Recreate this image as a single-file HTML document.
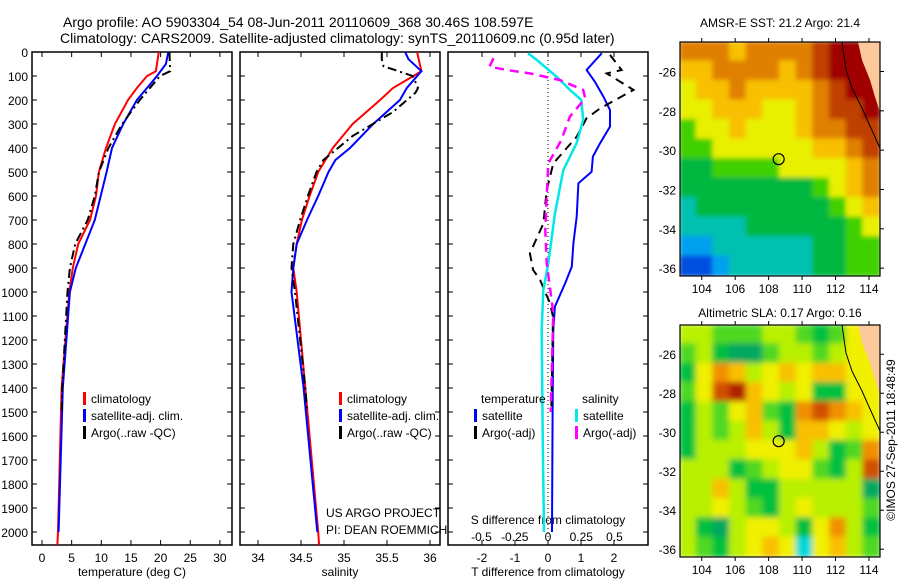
<!DOCTYPE html>
<html><head><meta charset="utf-8"><style>
body{margin:0;background:#fff}
svg{display:block;font-family:"Liberation Sans",sans-serif}
text{font-size:12px;fill:#000}
</style></head><body>
<svg id="fig" width="900" height="580" viewBox="0 0 900 580">
<defs>
<clipPath id="c1"><rect x="680" y="42" width="200" height="234"/></clipPath>
<clipPath id="c2"><rect x="680" y="325" width="200" height="232"/></clipPath>
<clipPath id="cp1"><rect x="32" y="52" width="200" height="493"/></clipPath>
<clipPath id="cp2"><rect x="240" y="52" width="200" height="493"/></clipPath>
<clipPath id="cp3"><rect x="448" y="52" width="200" height="493"/></clipPath>
<filter id="bl" x="-5%" y="-5%" width="110%" height="110%"><feGaussianBlur stdDeviation="2.5"/></filter>
<filter id="bl2" x="-5%" y="-5%" width="110%" height="110%"><feGaussianBlur stdDeviation="3"/></filter>
</defs>
<text x="63" y="27" style="font-size:14px">Argo profile: AO 5903304_54 08-Jun-2011 20110609_368 30.46S 108.597E</text>
<text x="60" y="43" style="font-size:14px">Climatology: CARS2009. Satellite-adjusted climatology: synTS_20110609.nc (0.95d later)</text>
<g id="g"></g>
</svg>
<script>
// ---- profile data ----
const tDepth=[0,80,100,150,200,300,400,500,600,700,800,900,1000,1400,2000,2054];
const tClim=[19.7,19.2,17.7,16,14.5,12.3,10.8,9.6,9.1,8.1,6.1,5.2,4.6,3.3,2.7,2.6];
const tSatDepth=[0,50,100,150,200,300,400,500,600,700,800,900,1000,1400,2000];
const tSat=[21.3,20.9,19.4,17.7,16,13.7,11.8,10.9,9.9,8.9,7.3,5.7,4.7,3.5,2.8];
const tArgoDepth=[0,80,100,200,300,400,500,600,700,800,900,1000,1400,1500];
const tArgo=[21.5,21.6,19.9,16.5,13.5,11.2,9.6,8.9,7.7,5.6,4.7,4.3,3.4,3.3];
const sClimDepth=[0,80,150,200,300,400,500,600,700,800,900,1000,1400,2000,2054];
const sClim=[35.85,35.9,35.57,35.42,35.1,34.87,34.7,34.6,34.51,34.45,34.41,34.45,34.55,34.7,34.71];
const sSatDepth=[0,30,80,150,200,300,400,450,500,600,700,800,900,1000,1400,2000];
const sSat=[35.71,35.75,35.9,35.73,35.65,35.34,35.07,34.9,34.82,34.7,34.57,34.45,34.41,34.39,34.53,34.69];
const sArgoDepth=[0,30,60,70,100,150,170,250,350,450,500,600,700,800,900,1000,1400,1500];
const sArgo=[35.44,35.44,35.46,35.55,35.8,35.86,35.83,35.57,35.1,34.76,34.68,34.58,34.49,34.41,34.39,34.43,34.55,34.57];
const dtSatDepth=[5,46,75,124,186,242,311,380,436,499,547,686,797,894,963,1061,1158,1500,2000];
const dtSat=[1.63,1.36,1.17,1.42,1.68,1.88,1.88,1.58,1.36,1.32,0.92,0.87,0.77,0.72,0.52,0.21,0.16,0.14,0.12];
const dtArgoDepth=[12,75,89,158,235,276,353,464,575,714,839,908,950,1047,1103,1500];
const dtArgo=[1.88,2.23,1.78,2.59,1.58,1.17,0.87,0.16,-0.04,-0.14,-0.55,-0.45,-0.24,0.06,0.15,0.1];
const dsSatDepth=[5,33,103,158,200,283,380,492,672,880,992,1158,1600,2000];
const dsSat=[-0.15,-0.085,0.065,0.165,0.25,0.265,0.215,0.115,0.053,0.002,-0.035,-0.047,-0.04,-0.03];
const dsArgoDepth=[26,61,75,89,117,158,193,269,367,464,603,742,880,1088,1500];
const dsArgo=[-0.41,-0.44,-0.31,-0.135,0.09,0.265,0.28,0.165,0.1,0.002,-0.01,-0.02,-0.01,0.04,0.02];
// ---- map data (rows lat -25..-36, cols lon 103..114) ----
const sstGrid=[
[8,8,8,7,8,8,8,8,9,10,10,10],
[7,7,8,8,8,8,7,8,9,10,10,10],
[6,7,7,8,7,7,7,7,8,9,10,10],
[6,6,7,7,7,6,6,7,8,9,9,10],
[5,6,6,7,6,6,6,7,8,8,9,9],
[5,5,6,6,6,6,6,6,7,7,8,9],
[4,4,5,5,5,5,6,6,6,6,7,8],
[4,4,4,4,4,4,4,4,5,6,7,8],
[3,4,4,4,4,4,4,4,4,5,6,7],
[3,3,3,3,4,4,4,4,4,4,5,6],
[2,2,3,3,3,3,3,3,4,4,5,5],
[1,1,2,3,3,3,3,3,4,4,5,5]];
const slaGrid=[
[4,4,3,3,3,4,4,3,2,3,5,5],
[3,4,2,1,1,3,4,4,3,4,5,5],
[2,5,7,6,4,5,6,5,6,6,5,5],
[3,5,8,9,6,5,4,5,2,2,5,5],
[2,4,3,5,6,3,2,7,8,7,6,5],
[2,4,3,4,6,4,2,6,6,5,4,5],
[2,4,4,4,5,5,5,6,4,2,3,7],
[4,4,4,2,3,4,5,5,3,2,4,8],
[4,4,6,4,2,2,4,4,4,4,4,1],
[4,4,5,4,3,2,4,5,4,4,4,3],
[4,2,1,4,5,5,4,2,5,7,4,2],
[4,3,2,4,5,6,5,0,5,6,4,3]];
const sstColors=["#0020b0","#0050e0","#00a0f0","#00c0b0","#00b840","#40d000","#e8f000","#f8c000","#e08000","#c04000","#a00000"];
const slaColors=["#00d8d8","#00a860","#00c040","#50d820","#b8f000","#f0f000","#f8c000","#f09000","#d05000","#b02000"];
const depthTicks=[0,100,200,300,400,500,600,700,800,900,1000,1100,1200,1300,1400,1500,1600,1700,1800,1900,2000];
const tTicks=[0,5,10,15,20,25,30];
const sTicks=[34,34.5,35,35.5,36];
const dtTicks=[-2,-1,0,1,2];
const dsTicks=[-0.5,-0.25,0,0.25,0.5];
const lonTicks=[104,106,108,110,112,114];
const latTicks=[-26,-28,-30,-32,-34,-36];

const NS="http://www.w3.org/2000/svg";
const G=document.getElementById('g');
function mk(tag,attrs,parent){const e=document.createElementNS(NS,tag);for(const k in attrs)e.setAttribute(k,attrs[k]);(parent||G).appendChild(e);return e;}
function txt(x,y,s,anchor,parent,size){const e=mk('text',{x:x,y:y,'text-anchor':anchor||'start'},parent);if(size)e.style.fontSize=size+'px';e.textContent=s;return e;}
const yD=d=>52+0.24*d;
const xT=t=>42+5.93*t;
const xS=s=>258+86*(s-34);
const xDT=v=>548+33*v;
const xDS=v=>548+133*v;

function line(depths,vals,fx,color,dash,clip,name,w){
  const pts=depths.map((d,i)=>fx(vals[i]).toFixed(1)+','+yD(d).toFixed(1)).join(' ');
  const p=mk('polyline',{points:pts,fill:'none',stroke:color,'stroke-width':w||2,'clip-path':'url(#'+clip+')'});
  if(dash)p.setAttribute('stroke-dasharray',dash);
  
  
}
const panels=[[32,'cp1'],[240,'cp2'],[448,'cp3']];
panels.forEach(([x0],i)=>{
  const r=mk('rect',{x:x0,y:52,width:200,height:493,fill:'none',stroke:'#000','stroke-width':1.5});
  
  
  depthTicks.forEach(d=>{
    mk('line',{x1:x0,x2:x0+5,y1:yD(d),y2:yD(d),stroke:'#000'});
    mk('line',{x1:x0+200,x2:x0+195,y1:yD(d),y2:yD(d),stroke:'#000'});
  });
});
depthTicks.forEach(d=>{
  const t=txt(28,yD(d)+5,String(d),'end');
  
  
});
function xticks(ticks,fx,labelY){
  ticks.forEach(v=>{
    const x=fx(v);
    mk('line',{x1:x,x2:x,y1:52,y2:57,stroke:'#000'});
    mk('line',{x1:x,x2:x,y1:545,y2:540,stroke:'#000'});
    if(labelY){const t=txt(x,labelY,String(v),'middle');
      
      }
  });
}
xticks(tTicks,xT,562);
xticks(sTicks,xS,562);
xticks(dtTicks,xDT,562);
dsTicks.forEach(v=>{const t=txt(xDS(v),541,String(v),'middle');
  
  });
[[132,'temperature (deg C)','x-axis-title-temperature'],[340,'salinity','x-axis-title-salinity'],[548,'T difference from climatology','x-axis-title-t-diff']].forEach(([x,s,n])=>{
  const t=txt(x,576,s,'middle');
  
  
});
const sd=txt(548,524,'S difference from climatology','middle');


const zl=mk('line',{x1:548,x2:548,y1:52,y2:545,stroke:'#000','stroke-dasharray':'1,3'});


line(tDepth,tClim,xT,'#f00',null,'cp1','temp-climatology-line');
line(tSatDepth,tSat,xT,'#00f',null,'cp1','temp-satellite-line');
line(tArgoDepth,tArgo,xT,'#000','9,4,2,4','cp1','temp-argo-line');
line(sClimDepth,sClim,xS,'#f00',null,'cp2','sal-climatology-line');
line(sSatDepth,sSat,xS,'#00f',null,'cp2','sal-satellite-line');
line(sArgoDepth,sArgo,xS,'#000','9,4,2,4','cp2','sal-argo-line');
line(dtSatDepth,dtSat,xDT,'#00f',null,'cp3','tdiff-satellite-line');
line(dtArgoDepth,dtArgo,xDT,'#000','9,6','cp3','tdiff-argo-line');
line(dsSatDepth,dsSat,xDS,'#00e8e8',null,'cp3','sdiff-satellite-line',2.5);
line(dsArgoDepth,dsArgo,xDS,'#f0f','9,6','cp3','sdiff-argo-line',2.5);
function leg(x,y,color,label,name){
  const b=mk('rect',{x:x,y:y-11,width:3,height:13,fill:color});
  
  
  const t=txt(x+8,y,label);
  
  
}
[[83],[339]].forEach(([x],i)=>{
  leg(x,403,'#f00','climatology','legend-climatology-'+(i+1));
  leg(x,420,'#00f','satellite-adj. clim.','legend-satellite-'+(i+1));
  leg(x,437,'#000','Argo(..raw -QC)','legend-argo-'+(i+1));
});
let lt=txt(481,403,'temperature');
lt=txt(582,403,'salinity');
leg(474,420,'#00f','satellite','legend-t-satellite');
leg(474,437,'#000','Argo(-adj)','legend-t-argo');
leg(575,420,'#00e8e8','satellite','legend-s-satellite');
leg(575,437,'#f0f','Argo(-adj)','legend-s-argo');
lt=txt(326,517,'US ARGO PROJECT');
lt=txt(326,534,'PI: DEAN ROEMMICH');

function map(top,h,grid,colors,clip,title,titleY,name,blur){
  const x0=680,w=200,ncol=12,nrow=12;
  const lon0=102.7,lon1=114.66,lat0=-24.5;
  const g=mk('g',{'clip-path':'url(#'+clip+')'});
  
  
  const inner=mk('g',{filter:'url(#'+blur+')'},g);
  const cw=w/ncol, ch=h/nrow;
  grid.forEach((row,r)=>row.forEach((v,c)=>{
    const cell=mk('rect',{x:(x0+c*cw-1).toFixed(1),y:(top+r*ch-1).toFixed(1),width:(cw+2).toFixed(1),height:(ch+2).toFixed(1),fill:colors[v]},inner);
    
    
  }));
  const sc=h/11.9;
  const X=lon=>x0+(lon-lon0)*(w/(lon1-lon0));
  const Y=lat=>top+(lat0-lat)*sc;
  const land=mk('polygon',{points:[[858,top],[862,top+18],[870,top+38],[875,top+55],[880,top+70],[880,top]].map(p=>p.join(',')).join(' '),fill:'#fdc89a'},g);
  
  
  const coast=mk('polyline',{points:[[842,top],[846,top+28],[852,top+46],[862,top+66],[870,top+84],[880,top+106]].map(p=>p.join(',')).join(' '),fill:'none',stroke:'#000','stroke-width':1},g);
  
  
  const circ=mk('circle',{cx:X(108.6),cy:Y(-30.46),r:5.5,fill:'none',stroke:'#000','stroke-width':1.2});
  
  
  const fr=mk('rect',{x:x0,y:top,width:w,height:h,fill:'none',stroke:'#000','stroke-width':1.2});
  
  
  lonTicks.forEach(l=>{const x=X(l);
    mk('line',{x1:x,x2:x,y1:top,y2:top-4,stroke:'#000'});
    mk('line',{x1:x,x2:x,y1:top+h,y2:top+h+4,stroke:'#000'});
    const t=txt(x,top+h+17,String(l),'middle');
    
    });
  latTicks.forEach(l=>{const y=Y(l);
    mk('line',{x1:x0+w,x2:x0+w+4,y1:y,y2:y,stroke:'#000'});
    const t=txt(676,y+5,String(l),'end');
    
    });
  const tt=txt(780,titleY,title,'middle');
  
  
}
map(42,234,sstGrid,sstColors,'c1','AMSR-E SST: 21.2 Argo: 21.4',27,'sst-map','bl');
map(325,232,slaGrid,slaColors,'c2','Altimetric SLA: 0.17 Argo: 0.16',317,'sla-map','bl2');
const cr=txt(0,0,'©IMOS 27-Sep-2011 18:48:49','middle');
cr.setAttribute('transform','translate(895,440) rotate(-90)');


</script>
</body></html>
